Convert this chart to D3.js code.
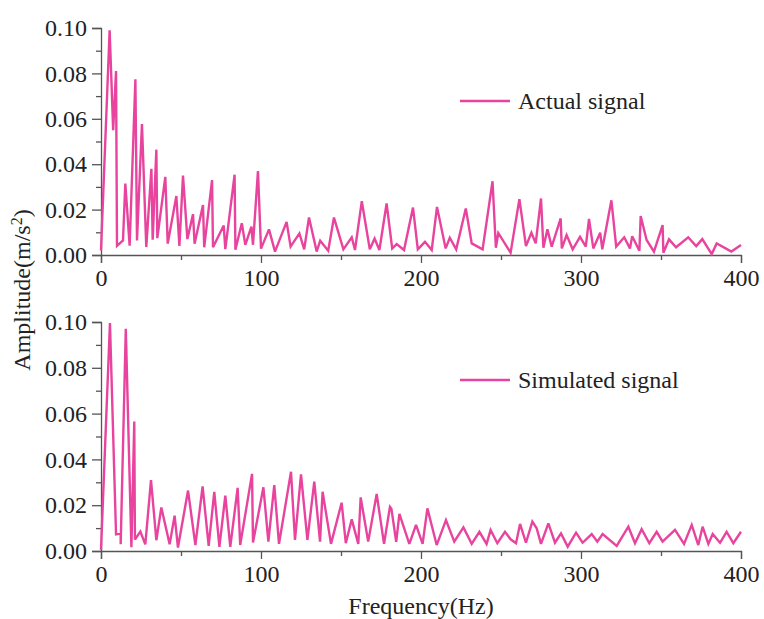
<!DOCTYPE html>
<html><head><meta charset="utf-8">
<script src="https://cdn.jsdelivr.net/npm/d3@7"></script>
<style>
body{margin:0;background:#fff;}
svg text{font-family:"Liberation Serif","Times New Roman",serif;fill:#222;}
</style></head>
<body>
<svg id="c" width="764" height="619"></svg>
<script>
const actualFreq = [0,5.4,7.6,9.4,10.0,13.75,15.2,17.9,21.5,22.5,25.6,28.3,31.5,32.3,34.6,35.2,40.2,41.7,47.1,49,51.25,54,57.5,58.5,63.75,64.5,69.4,70,76.7,77.7,83.5,84,88,90.2,94,95,98.1,100,105,108.75,116,118.5,124,127,130,134.8,137,142,145.6,151.5,156.7,158.75,163,168,171,174,178.5,182,184.8,189.4,195,198,202.5,206.7,210,215.4,218,222,228,231.7,238.5,244.7,246.8,248.3,256,261.5,265.6,269,271.7,275,276.5,279,281.7,287.3,288,291,294.8,299.4,303,305,307.7,312,313.3,319,322,327,330.6,332,336.5,337.3,341,345.6,351,351.5,355,359.4,367,372,375.8,381.7,384.8,394,400];
const actualAmp = [0.002,0.099,0.055,0.081,0.004,0.0064,0.0315,0.0041,0.0774,0.0064,0.0577,0.0035,0.038,0.0067,0.0464,0.0074,0.0344,0.005,0.026,0.004,0.035,0.007,0.018,0.005,0.022,0.0034,0.033,0.0034,0.013,0.0026,0.0354,0.0023,0.014,0.0045,0.0125,0.0045,0.037,0.0028,0.0113,0.0015,0.0146,0.0037,0.0095,0.0025,0.0165,0.0015,0.0063,0.0019,0.0165,0.0025,0.0078,0.0022,0.0237,0.0025,0.0073,0.0022,0.0227,0.0029,0.0048,0.0022,0.0209,0.0025,0.0058,0.0022,0.0212,0.0029,0.0076,0.0025,0.0205,0.0051,0.0025,0.0325,0.0032,0.0097,0.001,0.0246,0.0039,0.0098,0.0051,0.0249,0.0032,0.0113,0.0037,0.0161,0.0029,0.0088,0.0025,0.008,0.0037,0.0159,0.0029,0.0098,0.0025,0.0241,0.0037,0.0078,0.0029,0.0083,0.0019,0.0172,0.0066,0.0015,0.0132,0.001,0.0069,0.0034,0.0078,0.0039,0.007,0.0004,0.0051,0.0015,0.0044];

const simFreq = [0,5.6,9.4,12.3,12.3,15.5,19,20.8,21.2,24.6,27.7,31.25,34.6,37.7,42.9,46,48.1,54.4,59,63.5,67.3,70.8,74,77.7,80.8,85.4,87,94.4,95,101.5,104.6,108.3,111.25,118.75,121.25,125,129,133.3,136.9,138.5,143.75,150.4,153,156.7,160.8,162.3,167,172.3,176.9,180.6,181.5,184.5,186.5,192.7,196.9,201,204,209.8,215.6,220.8,226.5,231.7,236.5,241,243.5,247.7,252.5,256,259.4,261.9,265.6,269.6,272.3,275,279.6,283.75,287.5,291.7,296.9,301,306.7,310.2,313.5,322.3,329.6,333.75,337.9,342.7,347.3,351,358.75,364.4,369.2,373.3,376,379.6,382.3,386.9,391,395.2,400];
const simAmp = [0.0005,0.0995,0.0073,0.0076,0.003,0.097,0.0016,0.0565,0.005,0.0085,0.0029,0.031,0.0047,0.019,0.0029,0.0154,0.0015,0.0264,0.0026,0.0282,0.0022,0.0258,0.0018,0.0242,0.0018,0.0276,0.0026,0.0337,0.0037,0.0278,0.0041,0.0288,0.0031,0.0346,0.0048,0.0335,0.0048,0.0303,0.0041,0.0259,0.0031,0.0211,0.0034,0.0138,0.0031,0.0234,0.0041,0.0249,0.0031,0.0193,0.0185,0.004,0.0162,0.0031,0.0114,0.0031,0.0186,0.0026,0.0135,0.0041,0.0103,0.0031,0.0084,0.0031,0.0092,0.0034,0.0084,0.0051,0.0034,0.0118,0.0036,0.0128,0.0099,0.0031,0.0121,0.0036,0.0077,0.0019,0.008,0.0036,0.0074,0.0041,0.0074,0.0022,0.0106,0.0034,0.0095,0.0034,0.0084,0.0041,0.0092,0.0031,0.0114,0.0026,0.0106,0.0031,0.0074,0.0036,0.0084,0.0034,0.0084];

const xTicks = [0,100,200,300,400];
const xMinor = [50,150,250,350];
const yTicks = [0,0.02,0.04,0.06,0.08,0.10];
const yMinor = [0.01,0.03,0.05,0.07,0.09];
const legendLabels = ["Actual signal","Simulated signal"];
const xTitle = "Frequency(Hz)";
const lineColor = "#e8449e";

const svg = d3.select("#c");
const x = d3.scaleLinear().domain([0,400]).range([101,741]);
const panels = [
  {f:actualFreq, a:actualAmp, y0:255, y1:28, label:legendLabels[0], ly:101},
  {f:simFreq, a:simAmp, y0:551, y1:322, label:legendLabels[1], ly:380}
];
const axisColor = "#555";

panels.forEach(p=>{
  const y = d3.scaleLinear().domain([0,0.10]).range([p.y0,p.y1]);
  const g = svg.append("g");
  const ya = g.append("g").attr("transform","translate(101,0)")
    .call(d3.axisLeft(y).tickValues(yTicks).tickFormat(d3.format(".2f")).tickSize(9).tickPadding(5));
  ya.append("g").call(d3.axisLeft(y).tickValues(yMinor).tickFormat("").tickSize(5)).select(".domain").remove();
  const xa = g.append("g").attr("transform",`translate(0,${p.y0})`)
    .call(d3.axisBottom(x).tickValues(xTicks).tickFormat(d3.format("d")).tickSize(8).tickPadding(6));
  xa.append("g").call(d3.axisBottom(x).tickValues(xMinor).tickFormat("").tickSize(5)).select(".domain").remove();
  g.selectAll(".domain").attr("stroke",axisColor).attr("stroke-width",1.3);
  g.selectAll(".tick line").attr("stroke",axisColor).attr("stroke-width",1.3);
  g.selectAll(".tick text").attr("font-size",24).attr("font-family","Liberation Serif, Times New Roman, serif").attr("fill","#222");
  const data = p.f.map((d,i)=>[d,p.a[i]]);
  g.append("path").datum(data)
    .attr("fill","none").attr("stroke",lineColor).attr("stroke-width",2.4).attr("stroke-linejoin","miter").attr("stroke-miterlimit",3)
    .attr("d", d3.line().x(d=>x(d[0])).y(d=>y(d[1])));
  g.append("line").attr("x1",460).attr("x2",510).attr("y1",p.ly).attr("y2",p.ly)
    .attr("stroke",lineColor).attr("stroke-width",2.4);
  g.append("text").attr("x",518).attr("y",p.ly).attr("dy","0.35em")
    .attr("font-size",24).text(p.label);
});

svg.append("text").attr("x",421).attr("y",606).attr("dy","0.35em").attr("text-anchor","middle")
  .attr("font-size",24).text(xTitle);
const yt = svg.append("text").attr("transform","translate(22,290) rotate(-90)").attr("dy","0.35em")
  .attr("text-anchor","middle").attr("font-size",24);
yt.append("tspan").text("Amplitude(m/s");
yt.append("tspan").attr("baseline-shift","super").attr("font-size",16).text("2");
yt.append("tspan").text(")");
</script>
</body></html>
